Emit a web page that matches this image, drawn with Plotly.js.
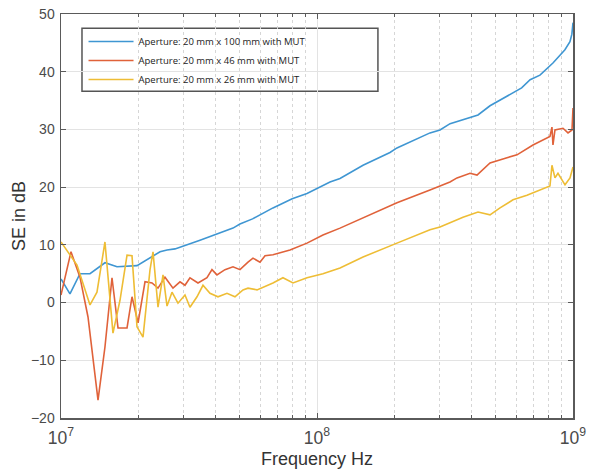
<!DOCTYPE html>
<html>
<head>
<meta charset="utf-8">
<script src="https://cdn.plot.ly/plotly-3.0.1.min.js"></script>
<style>html,body{margin:0;padding:0;background:#fff;}#chart{width:596px;height:474px;}</style>
</head>
<body>
<div id="chart"></div>
<script>
// Series names
const names = [
  "Aperture: 20 mm x 100 mm with MUT",
  "Aperture: 20 mm x 46 mm with MUT",
  "Aperture: 20 mm x 26 mm with MUT"
];

// Blue: 20 mm x 100 mm
const freqA = [1.0e7,1.084e7,1.186e7,1.298e7,1.485e7,1.655e7,1.981e7,2.168e7,2.437e7,2.595e7,2.788e7,3.491e7,4.697e7,5.0e7,5.6e7,6.73e7,8.0e7,9.14e7,1.0e8,1.124e8,1.23e8,1.513e8,1.928e8,2.053e8,2.763e8,3.023e8,3.31e8,3.96e8,4.256e8,4.741e8,5.524e8,6.3e8,6.8e8,7.43e8,8.35e8,9.3e8,9.73e8,9.9e8,1.0e9];
const seA   = [4.1,1.5,5.0,5.0,6.9,6.2,6.4,7.4,8.8,9.1,9.3,10.8,12.9,13.6,14.5,16.4,18.0,18.9,19.8,20.9,21.5,23.8,26.0,26.8,29.4,29.9,31.0,32.0,32.5,34.1,35.7,37.2,38.6,39.4,41.5,43.8,45.2,46.5,48.5];

// Red: 20 mm x 46 mm
const freqB = [1.0e7,1.094e7,1.186e7,1.275e7,1.395e7,1.485e7,1.582e7,1.67e7,1.811e7,1.894e7,2.0e7,2.129e7,2.268e7,2.393e7,2.548e7,2.738e7,2.916e7,3.05e7,3.19e7,3.429e7,3.717e7,3.888e7,4.067e7,4.37e7,4.697e7,5.002e7,5.376e7,5.623e7,5.989e7,6.266e7,6.73e7,7.843e7,9.141e7,1.055e8,1.23e8,1.513e8,2.053e8,2.763e8,3.023e8,3.307e8,3.523e8,3.961e8,4.217e8,4.741e8,5.524e8,6.043e8,6.977e8,7.912e8,8.128e8,8.276e8,8.351e8,8.503e8,9.138e8,9.561e8,9.91e8,1.0e9];
const seB   = [1.3,8.8,4.4,-2.5,-16.9,-7.7,4.3,-4.4,-4.4,1.0,-3.5,3.6,3.4,2.5,4.4,2.5,3.6,3.0,4.3,3.4,4.3,5.7,4.8,5.7,6.2,5.7,7.0,7.7,7.0,8.1,8.3,9.1,10.3,11.7,12.9,14.7,17.3,19.5,20.2,20.9,21.6,22.4,22.1,24.2,25.1,25.6,27.3,28.5,28.8,30.4,27.3,29.9,30.2,29.4,29.9,33.7];

// Yellow: 20 mm x 26 mm
const freqC = [1.0e7,1.155e7,1.298e7,1.382e7,1.485e7,1.596e7,1.7e7,1.811e7,1.894e7,1.981e7,2.091e7,2.227e7,2.288e7,2.393e7,2.503e7,2.595e7,2.714e7,2.864e7,3.05e7,3.19e7,3.398e7,3.586e7,3.819e7,4.104e7,4.45e7,4.782e7,5.14e7,5.376e7,5.83e7,6.266e7,6.73e7,7.362e7,8.058e7,9.141e7,1.055e8,1.23e8,1.513e8,2.053e8,2.763e8,3.023e8,3.307e8,3.718e8,4.256e8,4.741e8,5.187e8,5.83e8,6.61e8,7.431e8,8.128e8,8.276e8,8.503e8,8.736e8,9.306e8,9.734e8,1.0e9];
const seC   = [10.5,6.5,-0.4,1.8,10.5,-5.3,0.4,8.2,8.1,-4.2,-6.0,5.7,8.8,-0.8,4.8,-0.6,1.8,-0.1,1.3,-0.8,1.0,3.0,1.6,1.0,1.6,1.0,2.2,2.5,2.2,2.8,3.4,4.3,3.4,4.3,5.0,6.0,7.9,10.3,12.6,13.1,13.8,14.8,15.7,15.2,16.4,17.8,18.6,19.5,20.2,23.8,21.6,22.4,20.4,21.6,23.5];

const colors = ["#3f96d2", "#e0623a", "#eebd35"];

const traces = [
  {x: freqA, y: seA, name: names[0]},
  {x: freqB, y: seB, name: names[1]},
  {x: freqC, y: seC, name: names[2]}
].map((t, i) => Object.assign(t, {
  type: "scatter", mode: "lines",
  line: {color: colors[i], width: 1.6}
}));

const axisCommon = {
  showline: true, linecolor: "#5a5a5a", linewidth: 1.5, mirror: "ticks",
  ticks: "inside", ticklen: 5, tickcolor: "#5a5a5a", tickwidth: 1,
  gridcolor: "#e3e3e3", gridwidth: 1, zeroline: false,
  tickfont: {family: "Liberation Sans, Arial, sans-serif", size: 14, color: "#4a4a4a"}
};

const layout = {
  width: 596, height: 474,
  margin: {l: 61, r: 23, t: 14, b: 56},
  paper_bgcolor: "#fff", plot_bgcolor: "#fff",
  showlegend: true,
  legend: {
    x: 0.044, y: 0.968, xanchor: "left", yanchor: "top",
    bgcolor: "rgba(0,0,0,0)", borderwidth: 0,
    font: {family: "Open Sans, sans-serif", size: 9.5, color: "#222"},
    tracegroupgap: 0, itemwidth: 45
  },
  shapes: [{
    type: "rect", xref: "paper", yref: "paper", layer: "below",
    x0: 0.041, x1: 0.619, y0: 0.809, y1: 0.965,
    fillcolor: "#fff", line: {color: "#555", width: 1.5}
  }],
  xaxis: Object.assign({}, axisCommon, {
    type: "log", range: [7, 9], dtick: 1, exponentformat: "power",
    ticklabelstandoff: 4,
    minor: {dtick: "D1", showgrid: true, griddash: "dot", gridcolor: "#d6d6d6", ticks: "inside", ticklen: 3, tickcolor: "#5a5a5a"},
    title: {text: "Frequency Hz", font: {family: "Liberation Sans, Arial, sans-serif", size: 18, color: "#333"}, standoff: 5}
  }),
  yaxis: Object.assign({}, axisCommon, {
    range: [-20, 50], dtick: 10, ticklabelstandoff: 2,
    title: {text: "SE in dB", font: {family: "Liberation Sans, Arial, sans-serif", size: 18, color: "#333"}, standoff: 0}
  })
};

Plotly.newPlot("chart", traces, layout, {displayModeBar: false, staticPlot: true});
</script>
</body>
</html>
